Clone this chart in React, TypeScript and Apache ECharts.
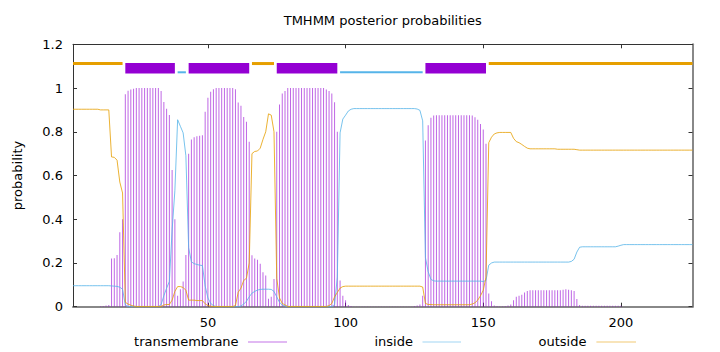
import React, { useEffect, useRef } from "react";
import * as echarts from "echarts";

const TITLE = "TMHMM posterior probabilities";
const Y_NAME = "probability";
const SERIES_NAMES = ["transmembrane", "inside", "outside"];
const X_RANGE = [1, 226];
const X_TICKS = [50, 100, 150, 200];
const Y_TICKS = [0, 0.2, 0.4, 0.6, 0.8, 1, 1.2];

// posterior probability per residue (residue 1..226)
const transmembrane = [
  0, 0, 0, 0, 0, 0, 0, 0, 0, 0,
  0.002, 0.003, 0.005, 0.008, 0.22, 0.222, 0.236, 0.341, 0.4, 0.972,
  0.988, 0.993, 0.997, 1, 1, 1, 1, 1, 1, 1,
  1, 1, 0.987, 0.936, 0.905, 0.877, 0.625, 0.4, 0.05, 0.08,
  0.115, 0.236, 0.7, 0.765, 0.775, 0.78, 0.782, 0.784, 0.892, 0.955,
  0.983, 0.995, 1, 1, 1, 1, 1, 1, 1, 0.995,
  0.934, 0.919, 0.868, 0.846, 0.754, 0.235, 0.22, 0.215, 0.196, 0.158,
  0.143, 0.036, 0.046, 0.127, 0.8, 0.925, 0.975, 0.987, 1, 1,
  1, 1, 1, 1, 1, 1, 1, 1, 1, 1,
  1, 1, 0.993, 0.987, 0.975, 0.935, 0.8, 0.12, 0.05, 0.03,
  0.008, 0.003, 0.001, 0.001, 0.001, 0.001, 0.001, 0.001, 0.001, 0.001,
  0.001, 0.001, 0.001, 0.001, 0.001, 0.001, 0.001, 0.001, 0.001, 0.001,
  0.001, 0.001, 0.001, 0.001, 0.003, 0.005, 0.01, 0.05, 0.76, 0.83,
  0.864, 0.874, 0.876, 0.876, 0.876, 0.876, 0.876, 0.876, 0.876, 0.876,
  0.876, 0.876, 0.876, 0.876, 0.876, 0.874, 0.866, 0.855, 0.835, 0.81,
  0.745, 0.06, 0.025, 0.006, 0.003, 0.002, 0.002, 0.003, 0.005, 0.01,
  0.03, 0.045, 0.05, 0.055, 0.065, 0.072, 0.075, 0.075, 0.075, 0.075,
  0.075, 0.075, 0.075, 0.075, 0.075, 0.075, 0.075, 0.075, 0.078, 0.08,
  0.078, 0.075, 0.072, 0.035, 0.008, 0.004, 0.004, 0.004, 0.004, 0.004,
  0.004, 0.004, 0.004, 0.004, 0.004, 0.004, 0.004, 0.004, 0.004, 0.004,
  0, 0, 0, 0, 0, 0, 0, 0, 0, 0,
  0, 0, 0, 0, 0, 0, 0, 0, 0, 0,
  0, 0, 0, 0, 0, 0,
];

const inside = [
  0.096, 0.096, 0.096, 0.096, 0.096, 0.096, 0.096, 0.096, 0.096, 0.096,
  0.096, 0.096, 0.096, 0.096, 0.095, 0.094, 0.093, 0.089, 0.08, 0.008,
  0, 0, 0, 0, 0, 0, 0, 0, 0, 0,
  0, 0, 0.01, 0.05, 0.085, 0.115, 0.35, 0.53, 0.855, 0.825,
  0.795, 0.69, 0.27, 0.205, 0.197, 0.193, 0.19, 0.188, 0.095, 0.04,
  0.015, 0.005, 0, 0, 0, 0, 0, 0, 0, 0,
  0, 0.003, 0.012, 0.025, 0.045, 0.062, 0.07, 0.076, 0.079, 0.08,
  0.08, 0.08, 0.079, 0.07, 0.045, 0.02, 0.008, 0.003, 0, 0,
  0, 0, 0, 0, 0, 0, 0, 0, 0, 0,
  0, 0, 0, 0, 0, 0.01, 0.135, 0.795, 0.858, 0.876,
  0.895, 0.903, 0.906, 0.906, 0.906, 0.906, 0.906, 0.906, 0.906, 0.906,
  0.906, 0.906, 0.906, 0.906, 0.906, 0.906, 0.906, 0.906, 0.906, 0.906,
  0.906, 0.906, 0.906, 0.906, 0.906, 0.904, 0.898, 0.85, 0.225, 0.16,
  0.125, 0.118, 0.117, 0.117, 0.117, 0.117, 0.117, 0.117, 0.117, 0.117,
  0.117, 0.117, 0.117, 0.117, 0.117, 0.117, 0.117, 0.117, 0.117, 0.115,
  0.12, 0.19, 0.2, 0.204, 0.204, 0.204, 0.204, 0.204, 0.204, 0.204,
  0.204, 0.204, 0.204, 0.204, 0.204, 0.204, 0.204, 0.204, 0.204, 0.204,
  0.204, 0.204, 0.204, 0.204, 0.204, 0.204, 0.204, 0.204, 0.204, 0.204,
  0.204, 0.207, 0.217, 0.25, 0.272, 0.274, 0.274, 0.274, 0.274, 0.274,
  0.274, 0.274, 0.274, 0.274, 0.274, 0.274, 0.274, 0.274, 0.277, 0.281,
  0.284, 0.284, 0.284, 0.284, 0.284, 0.284, 0.284, 0.284, 0.284, 0.284,
  0.284, 0.284, 0.284, 0.284, 0.284, 0.284, 0.284, 0.284, 0.284, 0.284,
  0.284, 0.284, 0.284, 0.284, 0.284, 0.284,
];

const outside = [
  0.903, 0.903, 0.903, 0.903, 0.903, 0.903, 0.903, 0.903, 0.903, 0.903,
  0.9, 0.9, 0.9, 0.9, 0.685, 0.683, 0.67, 0.57, 0.52, 0.02,
  0.012, 0.007, 0.003, 0.001, 0.001, 0.001, 0.001, 0.001, 0.001, 0.001,
  0.001, 0.001, 0.001, 0.008, 0.01, 0.01, 0.03, 0.07, 0.092, 0.092,
  0.088, 0.075, 0.03, 0.03, 0.03, 0.028, 0.028, 0.028, 0.013, 0.005,
  0.002, 0.001, 0.001, 0.001, 0.001, 0.001, 0.001, 0.001, 0.001, 0.005,
  0.066, 0.085, 0.12, 0.13, 0.2, 0.7, 0.71, 0.712, 0.725, 0.765,
  0.8, 0.882, 0.876, 0.8, 0.13, 0.04, 0.015, 0.008, 0.001, 0.001,
  0.001, 0.001, 0.001, 0.001, 0.001, 0.001, 0.001, 0.001, 0.001, 0.001,
  0.001, 0.001, 0.001, 0.005, 0.015, 0.045, 0.065, 0.085, 0.092, 0.094,
  0.094, 0.094, 0.094, 0.094, 0.094, 0.094, 0.094, 0.094, 0.094, 0.094,
  0.094, 0.094, 0.094, 0.094, 0.094, 0.094, 0.094, 0.094, 0.094, 0.094,
  0.094, 0.094, 0.094, 0.094, 0.094, 0.094, 0.094, 0.09, 0.015, 0.01,
  0.01, 0.009, 0.009, 0.009, 0.009, 0.009, 0.009, 0.009, 0.009, 0.009,
  0.009, 0.009, 0.009, 0.009, 0.009, 0.012, 0.018, 0.03, 0.05, 0.075,
  0.135, 0.75, 0.775, 0.79, 0.795, 0.797, 0.797, 0.797, 0.797, 0.797,
  0.77, 0.755, 0.75, 0.742, 0.733, 0.725, 0.722, 0.722, 0.722, 0.722,
  0.722, 0.722, 0.722, 0.722, 0.722, 0.722, 0.72, 0.72, 0.72, 0.72,
  0.72, 0.72, 0.72, 0.718, 0.716, 0.716, 0.716, 0.716, 0.716, 0.716,
  0.716, 0.716, 0.716, 0.716, 0.716, 0.716, 0.716, 0.716, 0.716, 0.716,
  0.716, 0.716, 0.716, 0.716, 0.716, 0.716, 0.716, 0.716, 0.716, 0.716,
  0.716, 0.716, 0.716, 0.716, 0.716, 0.716, 0.716, 0.716, 0.716, 0.716,
  0.716, 0.716, 0.716, 0.716, 0.716, 0.716,
];

// predicted topology (top track)
const topoStart = [1, 20, 39, 43, 66, 75, 98, 129, 152];
const topoEnd = [19, 38, 42, 65, 74, 97, 128, 151, 226];
const topoKind = ["outside", "TMhelix", "inside", "TMhelix", "outside", "TMhelix", "inside", "TMhelix", "outside"];

const C_TM = "#9400d3";
const C_IN = "#56b4e9";
const C_OUT = "#e69f00";
const FONT = "DejaVu Sans";

export default function App() {
  const ref = useRef<HTMLDivElement>(null);

  useEffect(() => {
    if (!ref.current) return;
    const chart = echarts.init(ref.current, null, { renderer: "svg", width: 720, height: 352 });

    const pts = (arr: number[]) => arr.map((v, k) => [k + 1, v]);
    const kindIdx = (k: string) => (k === "outside" ? 0 : k === "inside" ? 1 : 2);
    const topoData = topoStart.map((s, k) => [s, topoEnd[k], kindIdx(topoKind[k])]);

    const legendItems = [
      { name: SERIES_NAMES[0], color: C_TM, textRight: 238.6, x1: 248, x2: 287 },
      { name: SERIES_NAMES[1], color: C_IN, textRight: 413, x1: 422.5, x2: 461 },
      { name: SERIES_NAMES[2], color: C_OUT, textRight: 586.4, x1: 596.4, x2: 636 },
    ];
    const LY = 341.5;
    const graphic: any[] = [];
    legendItems.forEach((it) => {
      graphic.push({
        type: "text",
        x: it.textRight,
        y: LY,
        style: {
          text: it.name,
          fill: "#000",
          fontSize: 13,
          fontFamily: FONT,
          align: "right",
          textAlign: "right",
          verticalAlign: "middle",
          textVerticalAlign: "middle",
        },
      });
      graphic.push({
        type: "line",
        shape: { x1: it.x1, y1: LY + 0.5, x2: it.x2, y2: LY + 0.5 },
        style: { stroke: it.color, lineWidth: 1, opacity: 0.55 },
      });
    });

    const option: any = {
      animation: false,
      backgroundColor: "#fff",
      title: {
        text: TITLE,
        left: 382.7,
        top: 13.5,
        padding: 0,
        textAlign: "center",
        textStyle: { fontSize: 13, fontWeight: "normal", color: "#000", fontFamily: FONT },
      },
      grid: { left: 73, right: 27.5, top: 44.3, bottom: 45.3, containLabel: false },
      xAxis: [
        {
          type: "value",
          position: "bottom",
          min: X_RANGE[0],
          max: X_RANGE[1],
          axisLine: { show: true, onZero: false, lineStyle: { color: "#888", width: 2 } },
          axisTick: { show: true, inside: true, length: 4, customValues: X_TICKS, lineStyle: { color: "#333" } },
          axisLabel: { show: true, customValues: X_TICKS, color: "#000", fontSize: 13, fontFamily: FONT, margin: 9 },
          splitLine: { show: false },
        },
        {
          type: "value",
          position: "top",
          min: X_RANGE[0],
          max: X_RANGE[1],
          axisLine: { show: true, onZero: false, lineStyle: { color: "#333", width: 1 } },
          axisTick: { show: true, inside: true, length: 4, customValues: X_TICKS, lineStyle: { color: "#333" } },
          axisLabel: { show: false },
          splitLine: { show: false },
        },
      ],
      yAxis: [
        {
          type: "value",
          position: "left",
          min: Y_TICKS[0],
          max: Y_TICKS[Y_TICKS.length - 1],
          interval: Y_TICKS[1] - Y_TICKS[0],
          name: Y_NAME,
          nameLocation: "middle",
          nameGap: 49,
          nameTextStyle: { fontSize: 13, fontFamily: FONT, color: "#000" },
          axisLine: { show: true, onZero: false, lineStyle: { color: "#333", width: 1 } },
          axisTick: { show: true, inside: true, length: 4, lineStyle: { color: "#333" } },
          axisLabel: {
            color: "#000",
            fontSize: 13,
            fontFamily: FONT,
            margin: 10,
            formatter: (v: number) => String(Math.round(v * 10) / 10),
          },
          splitLine: { show: false },
        },
        {
          type: "value",
          position: "right",
          min: Y_TICKS[0],
          max: Y_TICKS[Y_TICKS.length - 1],
          interval: Y_TICKS[1] - Y_TICKS[0],
          axisLine: { show: true, onZero: false, lineStyle: { color: "#888", width: 2 } },
          axisTick: { show: true, inside: true, length: 4, lineStyle: { color: "#333" } },
          axisLabel: { show: false },
          splitLine: { show: false },
        },
      ],
      series: [
        {
          name: SERIES_NAMES[0],
          type: "bar",
          xAxisIndex: 0,
          yAxisIndex: 0,
          data: pts(transmembrane),
          barWidth: 1,
          itemStyle: { color: C_TM, opacity: 0.6 },
          z: 2,
        },
        {
          name: SERIES_NAMES[1],
          type: "line",
          xAxisIndex: 0,
          yAxisIndex: 0,
          data: pts(inside),
          showSymbol: false,
          symbol: "none",
          lineStyle: { color: C_IN, width: 1, opacity: 0.8 },
          z: 3,
        },
        {
          name: SERIES_NAMES[2],
          type: "line",
          xAxisIndex: 0,
          yAxisIndex: 0,
          data: pts(outside),
          showSymbol: false,
          symbol: "none",
          lineStyle: { color: C_OUT, width: 1, opacity: 0.8 },
          z: 3,
        },
        {
          name: "topology",
          type: "custom",
          xAxisIndex: 0,
          yAxisIndex: 0,
          data: topoData,
          encode: { x: [0, 1] },
          z: 4,
          renderItem: (_p: any, api: any) => {
            const s = api.value(0);
            const e = api.value(1);
            const kind = api.value(2);
            if (kind === 2) {
              const a = api.coord([s, 1.114]);
              const b = api.coord([e, 1.067]);
              return {
                type: "rect",
                shape: { x: a[0], y: a[1], width: b[0] - a[0], height: b[1] - a[1] },
                style: { fill: C_TM },
              };
            }
            const yv = kind === 0 ? 1.112 : 1.072;
            const a = api.coord([s, yv]);
            const b = api.coord([e, yv]);
            return {
              type: "line",
              shape: { x1: a[0], y1: a[1], x2: b[0], y2: b[1] },
              style: { stroke: kind === 0 ? C_OUT : C_IN, lineWidth: kind === 0 ? 3 : 2 },
            };
          },
        },
      ],
      graphic,
    };

    chart.setOption(option);
    return () => chart.dispose();
  }, []);

  return (
    <div
      ref={ref}
      style={{ position: "fixed", left: 0, top: 0, width: 720, height: 352, background: "#fff" }}
    />
  );
}
